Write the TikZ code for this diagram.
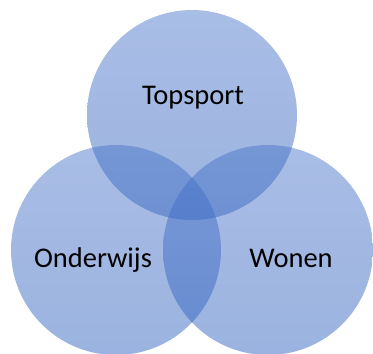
\documentclass[tikz,border=0pt]{standalone}
\usepackage{fontspec}
\setmainfont{Carlito}
\usepackage{tikz}
\definecolor{venntop}{RGB}{72,115,200}
\definecolor{vennbottom}{RGB}{42,93,189}
\tikzset{
  venn/.style = {circle, minimum size=210pt, inner sep=0pt, top color=venntop, bottom color=vennbottom, fill opacity=0.47},
  vennlabel/.style = {anchor=base, font=\fontsize{28.5}{30}\selectfont, text=black}
}

\begin{document}
\begin{tikzpicture}[x=1pt, y=-1pt]
\useasboundingbox (0,0) rectangle (373,354);
% circles
\node[venn] (T) at (192, 115) {}; % top circle
\node[venn] (O) at (116, 250) {};
\node[venn] (W) at (268, 250) {};
% labels
\node[vennlabel] (topsport) at (193, 104) {Topsport};
\node[vennlabel] (onderwijs) at (93, 267) {Onderwijs};
\node[vennlabel] (wonen) at (291, 267) {Wonen};

\end{tikzpicture}
\end{document}
